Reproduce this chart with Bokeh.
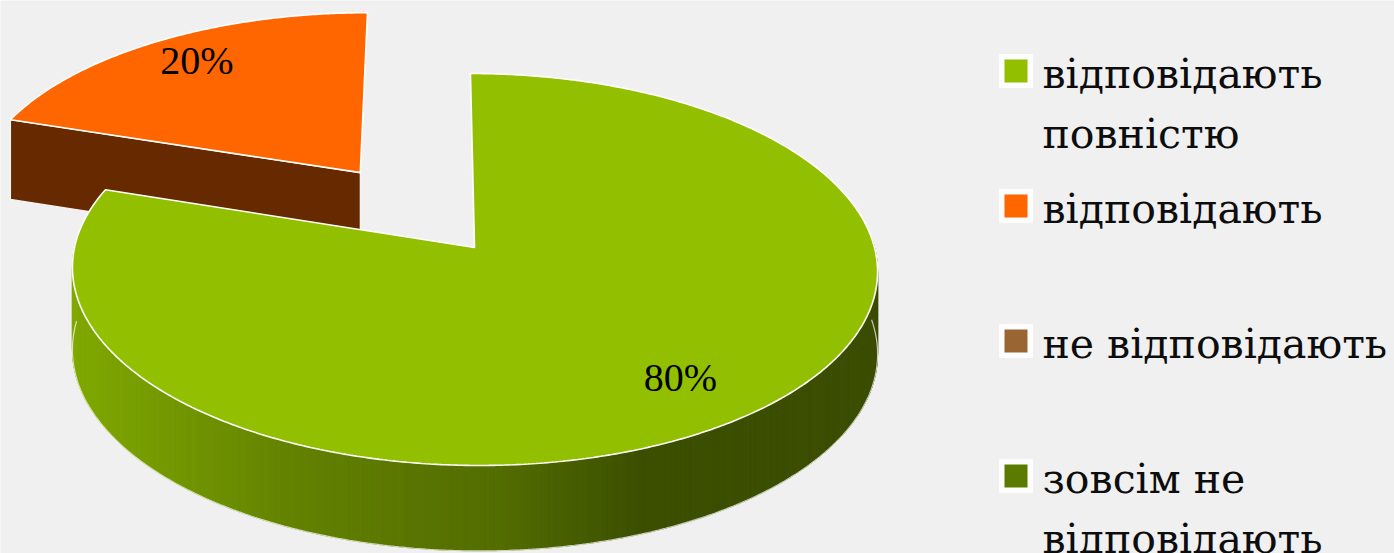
import numpy as np
from bokeh.plotting import figure
from bokeh.models import Range1d, ColumnDataSource
from bokeh.core.properties import value
from bokeh.embed import file_html
from bokeh.resources import INLINE

# ---------------- data ----------------
categories = ["відповідають повністю", "відповідають", "не відповідають", "зовсім не відповідають"]
legend_lines = [["відповідають", "повністю"], ["відповідають"], ["не відповідають"], ["зовсім не", "відповідають"]]
values = [80, 20, 0, 0]
top_colors = ["#92C000", "#FF6600", "#996633", "#5B7A00"]
explode = [0.0, 0.5, 0.0, 0.0]

# ---------------- style / geometry ----------------
W, H = 1394, 553
CX, CY = 474.0, 247.0           # pie centre (px)
A, B, K = 400.0, 193.5, 0.1122  # half axes and perspective factor
SKEW = -4.5                     # horizontal shift of far points
D, KD = 82.0, 0.04              # thickness and its perspective factor
FONT = value("Liberation Serif")
LFONT = value("DejaVu Serif")
LFS = 41

p = figure(width=W, height=H, x_range=Range1d(0, W), y_range=Range1d(H, 0),
           output_backend="svg", toolbar_location=None, min_border=0,
           x_axis_type=None, y_axis_type=None,
           background_fill_color="#f0f0f0", border_fill_color="#f0f0f0",
           outline_line_color=None)
p.grid.visible = False


def P(u, v, h):
    w = 1 + K * v
    return CX + (A * u + SKEW * v) / w, CY - B * v / w + D * h / (1 + KD * v)


def hex2rgb(c):
    c = c.lstrip("#")
    return np.array([int(c[i:i + 2], 16) for i in (0, 2, 4)], dtype=float)


def rgb2hex(r):
    r = np.clip(np.round(r), 0, 255).astype(int)
    return "#%02x%02x%02x" % tuple(r)


# shading of the curved side along screen x
grad_x = [75, 300, 500, 640, 900]
grad_f = [0.875, 0.67, 0.565, 0.41, 0.40]
FACE_F = 0.40

total = float(sum(values))
slices = []
cum = 0.0
for i, v in enumerate(values):
    s = 90 - 360 * cum / total
    e = 90 - 360 * (cum + v) / total
    cum += v
    if v == 0:
        continue
    slices.append(dict(i=i, s=s, e=e, v=v))

# draw far slices first
slices.sort(key=lambda d: -np.sin(np.radians((d["s"] + d["e"]) / 2)))

label_x, label_y, label_t = [], [], []
for sl in slices:
    i, s, e = sl["i"], sl["s"], sl["e"]
    mid = np.radians((s + e) / 2)
    ox, oy = explode[i] * np.cos(mid), explode[i] * np.sin(mid)
    top = hex2rgb(top_colors[i])
    n = max(int(abs(s - e) * 2), 12)
    t = np.radians(np.linspace(s, e, n))

    # radial faces
    fx, fy = [], []
    for ang, nang in ((s, s + 90), (e, e - 90)):
        if np.sin(np.radians(nang)) < -0.05:
            a = np.radians(ang)
            pts = [P(ox, oy, 0), P(ox + np.cos(a), oy + np.sin(a), 0),
                   P(ox + np.cos(a), oy + np.sin(a), 1), P(ox, oy, 1)]
            fx.append([q[0] for q in pts])
            fy.append([q[1] for q in pts])
    if fx:
        col = rgb2hex(top * FACE_F)
        p.patches(fx, fy, fill_color=col, line_color="white", line_width=1.2, line_alpha=0.9)

    # curved side strips
    sx, sy, sc = [], [], []
    order = []
    for j in range(len(t) - 1):
        tm = (t[j] + t[j + 1]) / 2
        if np.sin(tm) < 0.05:
            u0, v0 = ox + np.cos(t[j]), oy + np.sin(t[j])
            u1, v1 = ox + np.cos(t[j + 1]), oy + np.sin(t[j + 1])
            pts = [P(u0, v0, 0), P(u1, v1, 0), P(u1, v1, 1), P(u0, v0, 1)]
            xs = [q[0] for q in pts]
            ys = [q[1] for q in pts]
            f = np.interp(np.mean(xs), grad_x, grad_f) if explode[i] == 0 else FACE_F
            order.append((-np.sin(tm), xs, ys, rgb2hex(top * f)))
    order.sort(key=lambda d: d[0])
    for _, xs, ys, c in order:
        sx.append(xs); sy.append(ys); sc.append(c)
    if sx:
        src = ColumnDataSource(dict(xs=sx, ys=sy, c=sc))
        p.patches("xs", "ys", source=src, fill_color="c", line_color="c", line_width=1.0)
        # bottom rim highlight
        vis = [tt for tt in t if np.sin(tt) < 0.05]
        bx = [P(ox + np.cos(tt), oy + np.sin(tt), 1)[0] for tt in vis]
        by = [P(ox + np.cos(tt), oy + np.sin(tt), 1)[1] for tt in vis]
        p.line(bx, by, line_color="white", line_width=1.2, line_alpha=0.7)

    # top face
    pts = [P(ox, oy, 0)] + [P(ox + np.cos(tt), oy + np.sin(tt), 0) for tt in t]
    p.patch([q[0] for q in pts], [q[1] for q in pts], fill_color=top_colors[i],
            line_color="white", line_width=1.6)

    # label position
    lx, ly = P(ox + 0.8 * np.cos(mid), oy + 0.8 * np.sin(mid), 0)
    label_x.append(lx); label_y.append(ly - 5)
    label_t.append("%d%%" % round(100 * sl["v"] / total))

p.text(x=label_x, y=label_y, text=label_t, text_font=FONT, text_font_size="40px",
       text_align="center", text_baseline="middle", text_color="#000000")

# ---------------- legend ----------------
LX, LY0, LSTEP, LINE_H = 1015.5, 70.5, 135.0, 60.0
ys_box = [LY0 + k * LSTEP for k in range(len(categories))]
p.rect(x=[LX] * len(categories), y=ys_box, width=34, height=34,
       fill_color="white", fill_alpha=0.85, line_color=None)
p.rect(x=[LX] * len(categories), y=ys_box, width=23, height=23,
       fill_color=top_colors, line_color=None)
tx, ty, tt_ = [], [], []
for k, lines in enumerate(legend_lines):
    for m, ln in enumerate(lines):
        tx.append(LX + 26.5)
        ty.append(ys_box[k] + 15 + m * LINE_H - 0.3 * LFS)
        tt_.append(ln)
p.text(x=tx, y=ty, text=tt_, text_font=LFONT, text_font_size="%dpx" % LFS,
       text_align="left", text_baseline="alphabetic", text_color="#0d0d0d")

html = file_html(p, INLINE)
html = html.replace("<body>", '<body style="background:#f0f0f0">', 1)
open("out.html", "w").write(html)
